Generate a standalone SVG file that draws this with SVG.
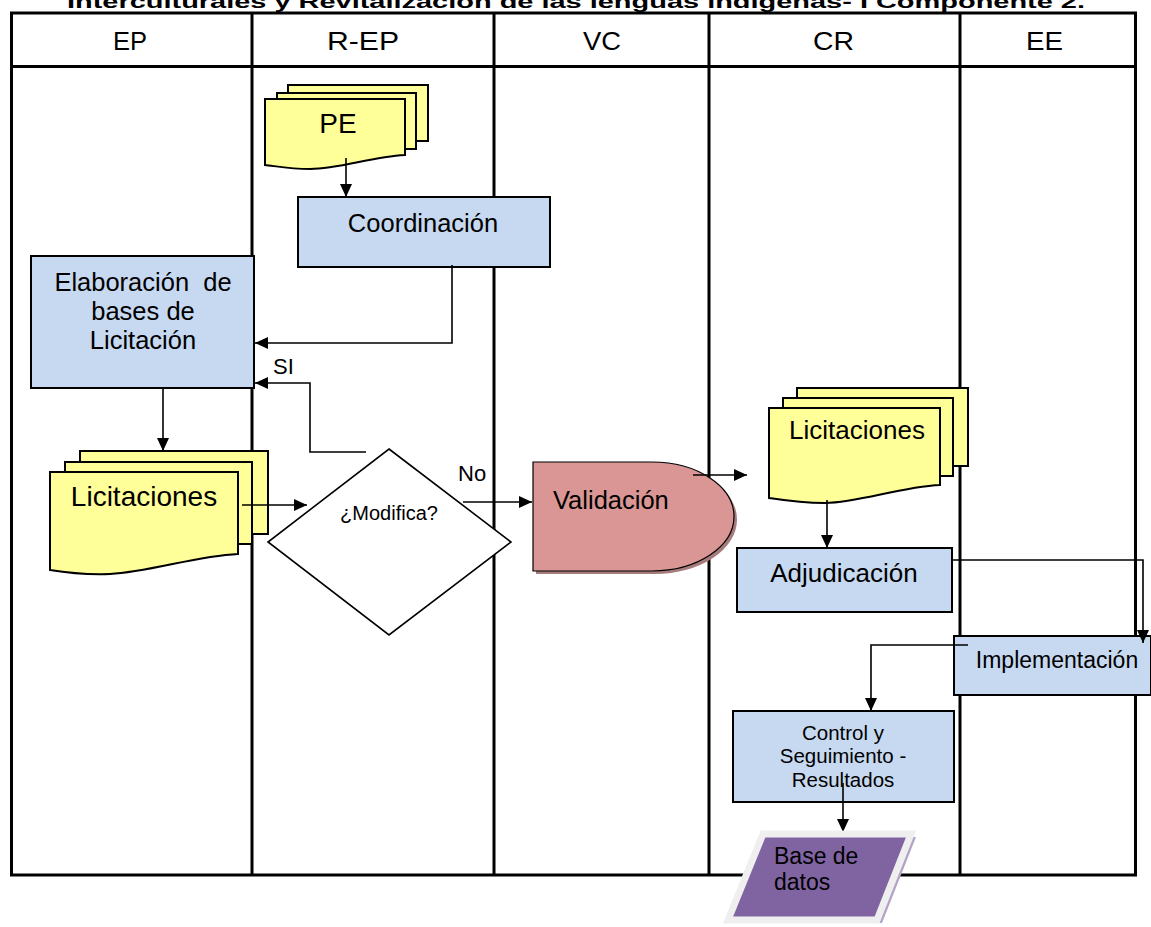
<svg xmlns="http://www.w3.org/2000/svg" width="1151" height="927" viewBox="0 0 1151 927">
<defs>
<marker id="arr" markerUnits="userSpaceOnUse" markerWidth="14" markerHeight="12" refX="13" refY="6" orient="auto">
<path d="M0,0 L13,6 L0,12 z" fill="#000"/>
</marker>
<style>
.t{font-family:"Liberation Sans",Arial,sans-serif;fill:#000}
.lane{stroke:#000;stroke-width:3;fill:none}
.proc{fill:#c6d9f1;stroke:#000;stroke-width:2}
.doc{fill:#ffff99;stroke:#000;stroke-width:2}
.conn path{fill:none;stroke:#000;stroke-width:1.6;marker-end:url(#arr)}
</style>
</defs>
<rect width="1151" height="927" fill="#fff"/>
<text class="t" x="576" y="8" font-size="19" font-weight="bold" text-anchor="middle" textLength="1018" lengthAdjust="spacingAndGlyphs">Interculturales y Revitalización de las lenguas indígenas- I Componente 2.</text>
<g id="lanes">
<rect class="lane" x="11.5" y="13" width="1124" height="862"/>
<line class="lane" x1="11" y1="66.5" x2="1136" y2="66.5" stroke-width="3.5"/>
<line class="lane" x1="252" y1="13" x2="252" y2="875"/>
<line class="lane" x1="494" y1="13" x2="494" y2="875"/>
<line class="lane" x1="709" y1="13" x2="709" y2="875"/>
<line class="lane" x1="960" y1="13" x2="960" y2="875"/>
<g class="t" font-size="26">
<text x="113" y="50" textLength="34" lengthAdjust="spacingAndGlyphs">EP</text>
<text x="327" y="50" textLength="72" lengthAdjust="spacingAndGlyphs">R-EP</text>
<text x="583" y="50" textLength="38" lengthAdjust="spacingAndGlyphs">VC</text>
<text x="813" y="50" textLength="41" lengthAdjust="spacingAndGlyphs">CR</text>
<text x="1026" y="50" textLength="37" lengthAdjust="spacingAndGlyphs">EE</text>
</g>
</g>
<g id="pe">
<rect class="doc" x="288" y="85" width="140" height="56"/>
<rect class="doc" x="277" y="93" width="139" height="56"/>
<path class="doc" d="M265,99 H405 V155 C370,157 340,169 310,169 C290,169 275,166 265,165 Z"/>
<text class="t" x="338" y="133" font-size="28" text-anchor="middle">PE</text>
</g>
<g id="coordinacion">
<rect class="proc" x="298" y="197" width="252" height="70"/>
<text class="t" x="423" y="232" font-size="25.5" text-anchor="middle">Coordinación</text>
</g>
<g id="elaboracion">
<rect class="proc" x="31" y="256" width="223" height="132"/>
<g class="t" font-size="25.5" text-anchor="middle">
<text x="143" y="291" xml:space="preserve">Elaboración  de</text>
<text x="143" y="320">bases de</text>
<text x="143" y="349">Licitación</text>
</g>
</g>
<g id="licitaciones1">
<rect class="doc" x="80" y="451" width="188" height="83"/>
<rect class="doc" x="65" y="462" width="187" height="82"/>
<path class="doc" d="M50,472 H238 V554 C195,556 150,572 110,574 C80,575 62,572 50,570 Z"/>
<text class="t" x="144" y="506" font-size="28" text-anchor="middle">Licitaciones</text>
</g>
<g id="modifica">
<polygon points="389,449 511,542 389,635 268,542" fill="#fff" stroke="#000" stroke-width="1.6"/>
<text class="t" x="389" y="520" font-size="20" text-anchor="middle">¿Modifica?</text>
</g>
<g id="validacion">
<path d="M536,465 H655 A82,54.5 0 0 1 655,574 H536 Z" fill="#a57c7b"/>
<path d="M533,462 H652 A82,54.5 0 0 1 652,571 H533 Z" fill="#d99694" stroke="#000" stroke-width="1.2"/>
<text class="t" x="553" y="509" font-size="25.5">Validación</text>
</g>
<g id="licitaciones2">
<rect class="doc" x="797" y="388" width="171" height="78"/>
<rect class="doc" x="783" y="398" width="170" height="78"/>
<path class="doc" d="M769,408 H940 V485 C900,487 860,502 825,503 C800,503 782,500 769,498 Z"/>
<text class="t" x="857" y="439" font-size="26" text-anchor="middle">Licitaciones</text>
</g>
<g id="adjudicacion">
<rect class="proc" x="737" y="548" width="215" height="64"/>
<text class="t" x="844" y="582" font-size="26" text-anchor="middle">Adjudicación</text>
</g>
<g id="implementacion">
<rect class="proc" x="954" y="636" width="197" height="59"/>
<text class="t" x="1057" y="668" font-size="23" text-anchor="middle">Implementación</text>
</g>
<g id="control">
<rect class="proc" x="733" y="711" width="221" height="91"/>
<g class="t" font-size="20.5" text-anchor="middle">
<text x="843" y="740">Control y</text>
<text x="843" y="763">Seguimiento -</text>
<text x="843" y="787">Resultados</text>
</g>
</g>
<g id="connectors" class="conn">
<path d="M346,158 V197"/>
<path d="M452,265 V343 H255"/>
<path d="M366,452 H310 V383 H255"/>
<path d="M163,388 V451"/>
<path d="M242,505 H307"/>
<path d="M463,502 H532"/>
<path d="M693,475 H747"/>
<path d="M827,500 V548"/>
<path d="M952,560 H1143 V643"/>
<path d="M968,645 H871 V711"/>
<path d="M843,783 V832"/>
</g>
<g id="labels" class="t" font-size="22">
<text x="273" y="374">SI</text>
<text x="458" y="481">No</text>
</g>
<g id="basedatos">
<polygon points="768,837 916,837 882,923 733,923" fill="#b3a2c7"/>
<polygon points="763,834 911,834 877,920 728,920" fill="#8064a2" stroke="#efefef" stroke-width="7" stroke-linejoin="miter"/>
<g class="t" font-size="23">
<text x="774" y="864">Base de</text>
<text x="774" y="890">datos</text>
</g>
</g>
</svg>
